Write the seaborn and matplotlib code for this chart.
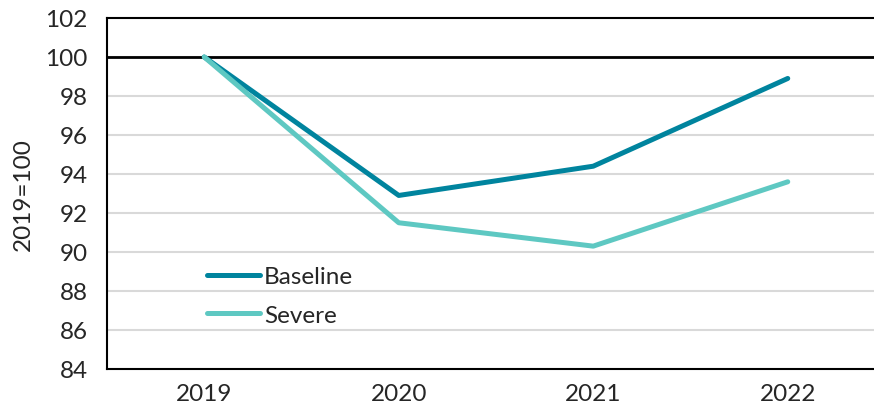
import pandas as pd
import matplotlib.pyplot as plt
import seaborn as sns

years = ['2019', '2020', '2021', '2022']
baseline = [100, 92.9, 94.4, 98.9]
severe = [100, 91.5, 90.3, 93.6]

df = pd.DataFrame({'Year': years * 2,
                   'Value': baseline + severe,
                   'Scenario': ['Baseline'] * 4 + ['Severe'] * 4})

sns.set_style('white')
plt.rcParams['font.family'] = ['Lato', 'DejaVu Sans']

fig = plt.figure(figsize=(8.74, 4.14), dpi=100)
ax = fig.add_axes([107 / 874, 1 - 370 / 414, (885 - 107) / 874, (370 - 19) / 414])

# grid lines
for y in range(86, 102, 2):
    ax.axhline(y, color='#D9D9D9', lw=1.5, zorder=0)
ax.axhline(100, color='black', lw=2, zorder=1)

sns.lineplot(data=df, x='Year', y='Value', hue='Scenario',
             palette={'Baseline': '#00849E', 'Severe': '#5EC8C2'},
             lw=3.6, ax=ax, zorder=3, solid_capstyle='round')

ax.set_ylim(84, 102)
ax.set_yticks(range(84, 103, 2))
ax.set_xlim(-0.5, 3.5)
ax.set_xlabel('')
ax.set_ylabel('2019=100', fontsize=17.5, labelpad=8)
ax.tick_params(axis='both', labelsize=17.5, length=0)
ax.tick_params(axis='y', pad=14)
ax.tick_params(axis='x', pad=10)

for side in ['left', 'bottom', 'top']:
    ax.spines[side].set_color('black')
    ax.spines[side].set_linewidth(1.5)
ax.spines['right'].set_visible(False)

leg = ax.legend(loc='upper left', bbox_to_anchor=(0.10, 0.355), frameon=False,
                fontsize=17.5, handlelength=2.2, handletextpad=0.15,
                labelspacing=0.72)
for line in leg.get_lines():
    line.set_linewidth(3.6)
    line.set_solid_capstyle('round')

fig.savefig('out.png', dpi=100)
